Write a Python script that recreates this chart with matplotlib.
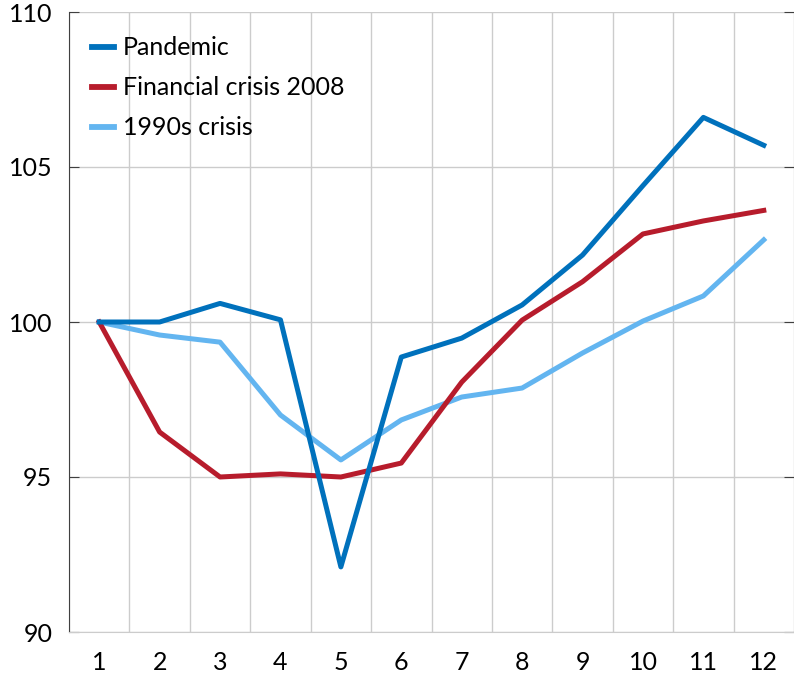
import matplotlib.pyplot as plt
from matplotlib.ticker import MultipleLocator

# Datos
months = [1, 2, 3, 4, 5, 6, 7, 8, 9, 10, 11, 12]
pandemic = [100.0, 100.0, 100.6, 100.07, 92.1, 98.87, 99.48, 100.55, 102.16, 104.4, 106.6, 105.7]
financial_2008 = [100.0, 96.45, 95.0, 95.1, 95.0, 95.45, 98.06, 100.06, 101.3, 102.84, 103.26, 103.6]
crisis_1990s = [100.0, 99.58, 99.35, 97.0, 95.55, 96.84, 97.58, 97.87, 99.0, 100.03, 100.84, 102.65]

plt.rcParams['font.family'] = ['Lato', 'DejaVu Sans']

fig = plt.figure(figsize=(7.94, 6.80), dpi=100)
ax = fig.add_axes([69 / 794, 1 - 632 / 680, 1 - 69 / 794, 620 / 680])

ax.plot(months, pandemic, color='#0071BC', lw=3.6, label='Pandemic', zorder=4)
ax.plot(months, financial_2008, color='#B71C2C', lw=3.6, label='Financial crisis 2008', zorder=3)
ax.plot(months, crisis_1990s, color='#63B5F0', lw=3.6, label='1990s crisis', zorder=2)

ax.set_xlim(0.5, 12.5)
ax.set_ylim(90, 110)
ax.set_xticks(months)
ax.xaxis.set_minor_locator(MultipleLocator(1, offset=0.5))
ax.set_yticks([90, 95, 100, 105, 110])

ax.grid(which='minor', axis='x', color='#cccccc', lw=1)
ax.grid(which='major', axis='y', color='#cccccc', lw=1)
ax.set_axisbelow(True)

for s in ['top', 'right']:
    ax.spines[s].set_visible(False)
ax.spines['bottom'].set_color('#cccccc')
ax.spines['left'].set_color('#404040')

ax.tick_params(axis='x', which='both', length=0, labelsize=18, pad=14)
ax.tick_params(axis='y', length=7, direction='in', color='#404040', labelsize=18, pad=12,
               right=True)

leg = ax.legend(loc='upper left', frameon=False, fontsize=18, handlelength=0.9,
                handletextpad=0.35, labelspacing=0.68, bbox_to_anchor=(0.0, 0.997))
for h in leg.get_lines():
    h.set_linewidth(4.2)

fig.savefig('out.png', dpi=100)
